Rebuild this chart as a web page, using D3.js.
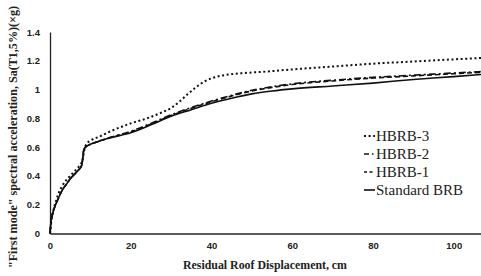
<!DOCTYPE html>
<html><head><meta charset="utf-8">
<script src="https://cdn.jsdelivr.net/npm/d3@7"></script>
<style>body{margin:0;background:#fff}svg{display:block}</style>
</head><body>
<svg id="c" width="481" height="276"></svg>
<script>
const xTicks = [0, 20, 40, 60, 80, 100];
const yTicks = [0, 0.2, 0.4, 0.6, 0.8, 1, 1.2, 1.4];
const seriesNames = ["HBRB-3", "HBRB-2", "HBRB-1", "Standard BRB"];

const xStd = [0,0.2,0.5,1,2,3,4,5,6,7,7.6,7.9,8.1,8.3,8.6,9,10,12,15,20,25,30,35,40,45,50,55,60,70,80,90,100,107];
const yStd = [0,0.07,0.12,0.17,0.24,0.30,0.34,0.38,0.41,0.44,0.46,0.48,0.52,0.57,0.595,0.605,0.62,0.64,0.665,0.70,0.755,0.815,0.86,0.905,0.94,0.97,0.99,1.005,1.025,1.045,1.07,1.09,1.105];

const xH1 = [0,0.2,0.5,1,2,3,4,5,6,7,7.6,7.9,8.1,8.3,8.6,9,10,12,15,20,25,30,35,40,45,50,55,60,70,80,90,100,107];
const yH1 = [0,0.07,0.12,0.17,0.24,0.30,0.34,0.38,0.41,0.44,0.46,0.48,0.52,0.57,0.595,0.605,0.62,0.64,0.667,0.705,0.76,0.82,0.87,0.915,0.955,0.99,1.015,1.035,1.06,1.08,1.095,1.11,1.12];

const xH2 = [0,0.2,0.5,1,2,3,4,5,6,7,7.6,7.9,8.1,8.3,8.6,9,10,12,15,20,25,30,35,40,45,50,55,60,70,80,90,100,107];
const yH2 = [0,0.07,0.12,0.17,0.24,0.30,0.34,0.38,0.41,0.44,0.46,0.48,0.52,0.57,0.595,0.605,0.62,0.64,0.668,0.71,0.765,0.825,0.875,0.92,0.96,0.995,1.02,1.04,1.065,1.085,1.10,1.115,1.125];

const xH3 = [0,0.5,1,2,3,4,5,6,7,7.8,8.2,8.5,9,10,12,15,20,24,28,30,32,34,36,38,40,42,44,48,52,60,70,80,90,100,107];
const yH3 = [0,0.12,0.18,0.27,0.33,0.37,0.40,0.43,0.46,0.49,0.53,0.58,0.62,0.645,0.67,0.71,0.765,0.80,0.845,0.872,0.915,0.965,1.012,1.052,1.078,1.094,1.104,1.115,1.122,1.14,1.16,1.18,1.195,1.21,1.22];

const dashes = ["2,2.6", "7,3,2,3", "5,3", null];
const widths = [2, 1.6, 1.6, 1.6];
const xsAll = [xH3, xH2, xH1, xStd];
const ysAll = [yH3, yH2, yH1, yStd];

const svg = d3.select("#c");
const x = d3.scaleLinear().domain([0, 107]).range([50, 482]);
const y = d3.scaleLinear().domain([0, 1.4]).range([233.5, 32]);

const xAxis = svg.append("g").attr("transform", "translate(0,233.5)")
  .call(d3.axisBottom(x).tickValues(xTicks).tickSize(0).tickPadding(9).tickFormat(d3.format("d")));
const yAxis = svg.append("g").attr("transform", "translate(50,0)")
  .call(d3.axisLeft(y).tickValues(yTicks).tickSize(0).tickPadding(10).tickFormat(d => String(d)));
[xAxis, yAxis].forEach(g => {
  g.select(".domain").attr("stroke", "#222").attr("stroke-width", 1.3);
  g.selectAll("text").attr("font-family", "Liberation Sans, Arial, sans-serif")
    .attr("font-weight", "bold").attr("font-size", 9.5).attr("fill", "#222");
});

const line = d3.line().x(d => x(d[0])).y(d => y(d[1])).curve(d3.curveMonotoneX);
seriesNames.forEach((name, i) => {
  const pts = xsAll[i].map((v, j) => [v, ysAll[i][j]]);
  svg.append("path").datum(pts).attr("d", line)
    .attr("fill", "none").attr("stroke", "#111")
    .attr("stroke-width", widths[i])
    .attr("stroke-dasharray", dashes[i]);
});

const leg = svg.append("g");
seriesNames.forEach((name, i) => {
  const cy = 136 + i * 18;
  leg.append("line").attr("x1", 364).attr("x2", 375).attr("y1", cy).attr("y2", cy)
    .attr("stroke", "#111").attr("stroke-width", widths[i])
    .attr("stroke-dasharray", i === 1 ? "5,3,1.5,3" : (i === 2 ? "3,2.5" : dashes[i]));
  leg.append("text").attr("x", 376).attr("y", cy + 5)
    .attr("font-family", "Liberation Serif, Times New Roman, serif")
    .attr("font-size", 15).attr("fill", "#222").text(name);
});

svg.append("text").attr("x", 265).attr("y", 269).attr("text-anchor", "middle")
  .attr("font-family", "Liberation Serif, Times New Roman, serif").attr("font-weight", "bold")
  .attr("font-size", 12).attr("fill", "#222")
  .attr("textLength", 164).attr("lengthAdjust", "spacingAndGlyphs")
  .text("Residual Roof Displacement, cm");
svg.append("text").attr("transform", "translate(17,137) rotate(-90)").attr("text-anchor", "middle")
  .attr("font-family", "Liberation Serif, Times New Roman, serif").attr("font-weight", "bold")
  .attr("font-size", 12).attr("fill", "#222")
  .attr("textLength", 262).attr("lengthAdjust", "spacingAndGlyphs")
  .text("\"First mode\" spectral acceleration, Sa(T1,5%)(\u00d7g)");
</script>
</body></html>
